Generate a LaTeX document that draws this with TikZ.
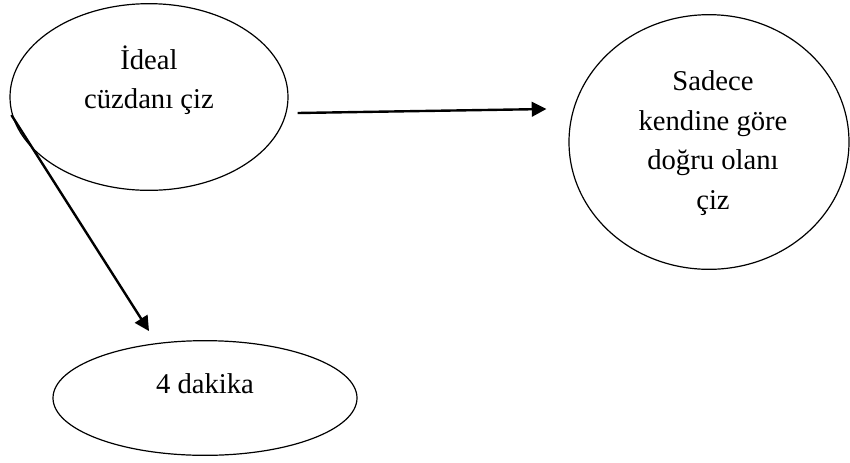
\documentclass[tikz,border=0pt]{standalone}
\usepackage{fontspec}
\setmainfont{Liberation Serif}
\usepackage{tikz}
\usetikzlibrary{positioning}
\usetikzlibrary{shapes.geometric}
\usetikzlibrary{arrows.meta}
\begin{document}
\begin{tikzpicture}[
x = 0.75pt, y = -0.75pt,
  oval/.style = {draw, ellipse, line width = 0.9pt, inner sep = 0pt},
  txt/.style = {align = center, font = \fontsize{21.5}{29.6}\selectfont},
  arr/.style = {line width = 1.8pt, -{Triangle[length = 11pt, width = 11pt]}}
]
\useasboundingbox (0,0) rectangle (850,462);
\node[oval, minimum width = 208.5pt, minimum height = 140pt] (ideal) at (149,97) {};
\node[oval, minimum width = 210pt, minimum height = 191pt] (sadece) at (709,142) {};
\node[oval, minimum width = 228pt, minimum height = 86pt] (dakika) at (205,398) {};
\node[txt] (ideal-t) at (149,80) {İdeal\\cüzdanı çiz};
\node[txt] (sadece-t) at (713,143) {Sadece\\kendine göre\\doğru olanı\\çiz};
\node[txt] (dakika-t) at (205,384) {4 dakika};
% arrow ends
\coordinate (ideal-e) at ([xshift = 6.75pt, yshift = -12pt]ideal.east);
\coordinate (sadece-w) at ([xshift = -16.5pt, yshift = 24.75pt]sadece.west);
\coordinate (ideal-w) at ([xshift = 1.5pt, yshift = -13.5pt]ideal.west);
\coordinate (dakika-n) at ([xshift = -42pt, yshift = 6.75pt]dakika.north);
\draw[arr] (ideal-e) -- (sadece-w);
\draw[arr] (ideal-w) -- (dakika-n);
\end{tikzpicture}
\end{document}
